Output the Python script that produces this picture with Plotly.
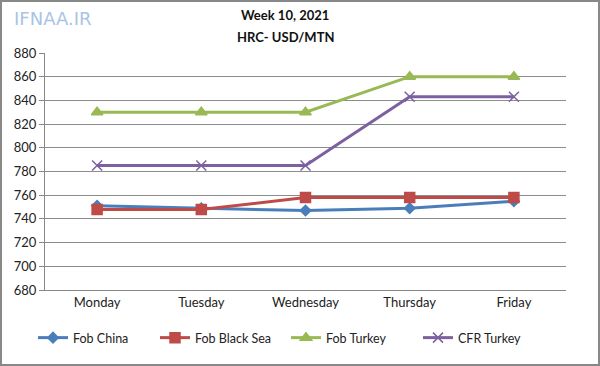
import plotly.graph_objects as go

days = ["Monday", "Tuesday", "Wednesday", "Thursday", "Friday"]
fob_china = [751, 749, 747, 749, 755]
fob_black_sea = [748, 748, 758, 758, 758]
fob_turkey = [830, 830, 830, 860, 860]
cfr_turkey = [785, 785, 785, 843, 843]
y_ticks = list(range(680, 881, 20))

W, H = 600, 366
L, R, T, B = 45, 34, 53, 76
pw, ph = W - L - R, H - T - B

def px_x(x):
    return (x - L) / pw

def px_y(y):
    return (H - B - y) / ph

fig = go.Figure()
series = [
    ("Fob China", fob_china, "#4a7ebb", "diamond", 8, "legend", 33),
    ("Fob Black Sea", fob_black_sea, "#be4b48", "square", 10, "legend2", 155),
    ("Fob Turkey", fob_turkey, "#98b954", "triangle-up", 10, "legend3", 286),
    ("CFR Turkey", cfr_turkey, "#7d60a0", "x-thin-open", 10, "legend4", 418),
]
legends = {}
for name, vals, col, sym, sz, lg, lx in series:
    fig.add_trace(go.Scatter(
        x=days, y=vals, name=name, mode="lines+markers",
        line=dict(color=col, width=3),
        marker=dict(symbol=sym, size=sz, color=col, line=dict(color=col, width=1.5)),
        legend=lg,
    ))
    legends[lg] = dict(x=px_x(lx), xanchor="left", y=px_y(338), yanchor="middle",
                       font=dict(size=12.5, color="#222"), bgcolor="rgba(0,0,0,0)")

fig.update_layout(
    width=W, height=H,
    margin=dict(l=L, r=R, t=T, b=B, autoexpand=False),
    paper_bgcolor="white", plot_bgcolor="white",
    font=dict(family="Lato, Open Sans, sans-serif", size=12, color="#222"),
    showlegend=True,
    xaxis=dict(showgrid=False, showline=True, linecolor="#888", linewidth=1,
               ticks="", tickfont=dict(size=13), range=[-0.5, 4.5], automargin=False),
    yaxis=dict(range=[680, 880], tickvals=y_ticks, showgrid=True, gridcolor="#8c8c8c",
               gridwidth=1, showline=True, linecolor="#888", ticks="outside",
               ticklen=5, tickcolor="#888", tickfont=dict(size=13), zeroline=False,
               automargin=False),
    annotations=[
        dict(text="<b>Week 10, 2021</b>", x=px_x(285), y=px_y(15),
             xref="paper", yref="paper", showarrow=False, font=dict(size=13, color="#111"),
             xanchor="center", yanchor="middle"),
        dict(text="<b>HRC- USD/MTN</b>", x=px_x(285), y=px_y(37),
             xref="paper", yref="paper", showarrow=False, font=dict(size=13, color="#111"),
             xanchor="center", yanchor="middle"),
        dict(text="IFNAA.IR", x=px_x(52), y=px_y(18),
             xref="paper", yref="paper", showarrow=False,
             font=dict(size=18, color="#a9c3e6", family="DejaVu Sans"),
             xanchor="center", yanchor="middle"),
    ],
    shapes=[dict(type="rect", xref="paper", yref="paper",
                 x0=px_x(1), x1=px_x(W - 1), y0=px_y(H - 1), y1=px_y(1),
                 line=dict(color="#888", width=2))],
    **legends,
)
fig.write_html("out.html", config={"displayModeBar": False},
               post_script="document.body.style.margin='0';document.body.style.overflow='hidden';")
